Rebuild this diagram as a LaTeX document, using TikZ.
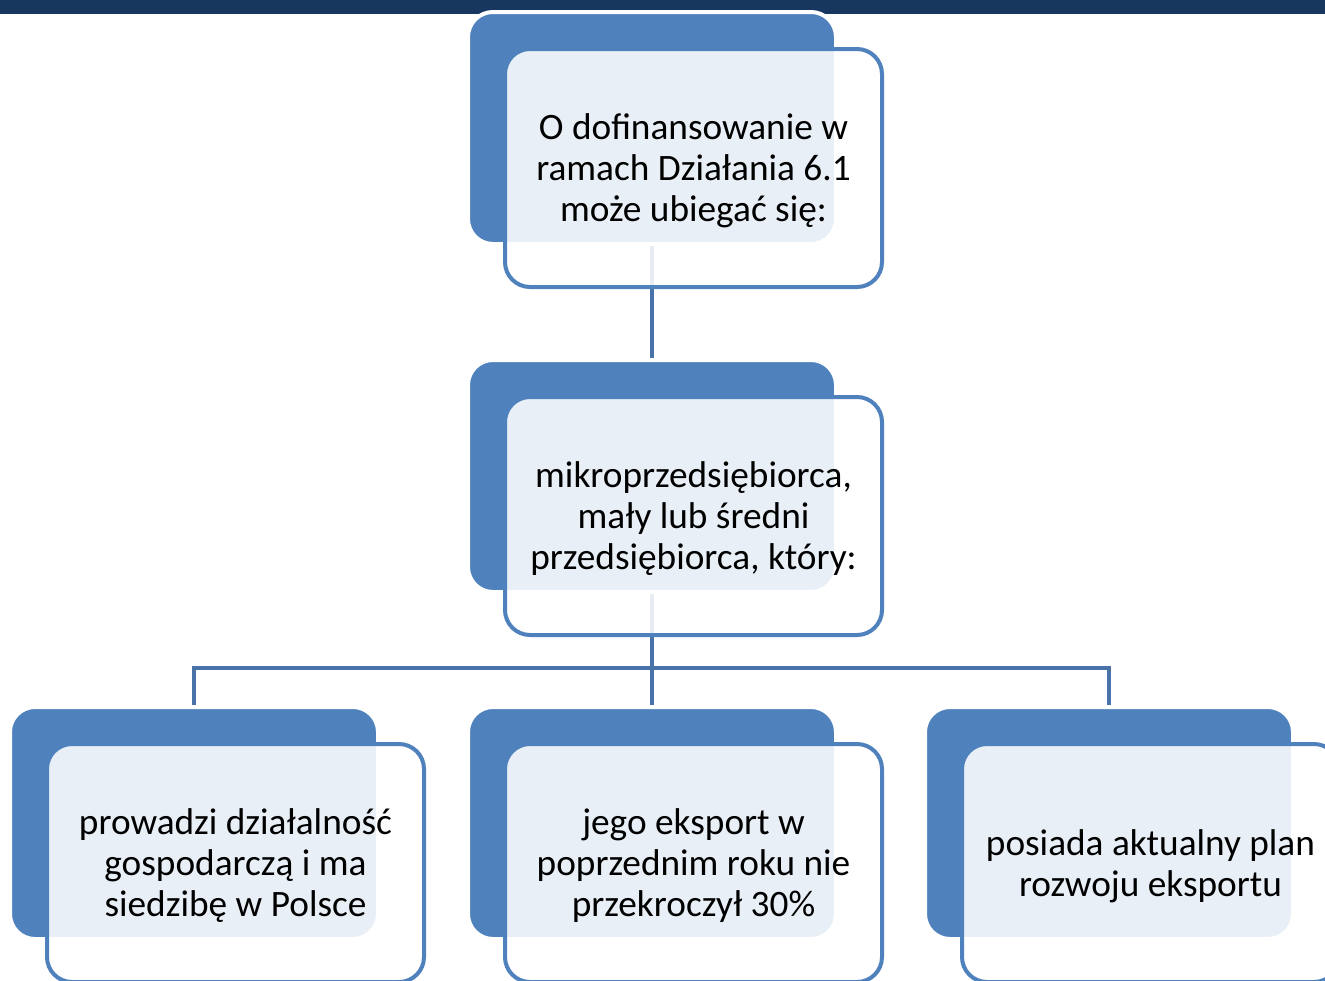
\documentclass[tikz,border=0pt]{standalone}
\usepackage{fontspec}
\setmainfont{Carlito}
\usetikzlibrary{backgrounds}
\definecolor{acc}{RGB}{79,129,189}
\definecolor{navy}{RGB}{23,55,94}
\definecolor{conn}{RGB}{72,114,168}
\tikzset{
  backbox/.style={fill=acc, draw=white, line width=4pt, rounded corners=25pt,
    minimum width=368pt, minimum height=232pt, inner sep=0pt, outer sep=0pt, anchor=north west},
  frontbox/.style={fill=white, fill opacity=0.88, draw=acc, line width=4pt,
    rounded corners=25pt, minimum width=377pt, minimum height=238pt,
    inner sep=0pt, outer sep=0pt, anchor=north west},
  txt/.style={align=center, text=black, font=\fontsize{37.3}{41}\selectfont, inner sep=0pt},
  conline/.style={draw=conn, line width=4pt}
}
\newcommand\orgbox[4]{%
  \node[backbox] (#1b) at (#2,#3) {};
  \node[frontbox] (#1) at (#2+37,#3+37) {};
  \node[txt] (#1t) at ([yshift=-3pt]#1.center) {#4};
}
\begin{document}
\begin{tikzpicture}[x=1pt,y=-1pt]
  \useasboundingbox (0,0) rectangle (1325,980);
  \clip (0,0) rectangle (1325,980);
  \fill[navy] (0,0) rectangle (1325,14);
  \orgbox{top}{468}{12}{O dofinansowanie w\\ramach Działania 6.1\\może ubiegać się:}
  \orgbox{mid}{468}{360}{mikroprzedsiębiorca,\\mały lub średni\\przedsiębiorca, który:}
  \orgbox{lft}{10}{707}{prowadzi działalność\\gospodarczą i ma\\siedzibę w Polsce}
  \orgbox{ctr}{468}{707}{jego eksport w\\poprzednim roku nie\\przekroczył 30\%}
  \orgbox{rgt}{925}{707}{posiada aktualny plan\\rozwoju eksportu}
  \coordinate (bus) at (652,668);
  \begin{scope}[on background layer]
    \draw[conline] (topb.south) -- (midb.north);
    \draw[conline] (midb.south) -- (bus);
    \draw[conline] (bus) -- (ctrb.north);
    \draw[conline] (lftb.north) |- (bus) -| (rgtb.north);
  \end{scope}
\end{tikzpicture}
\end{document}
